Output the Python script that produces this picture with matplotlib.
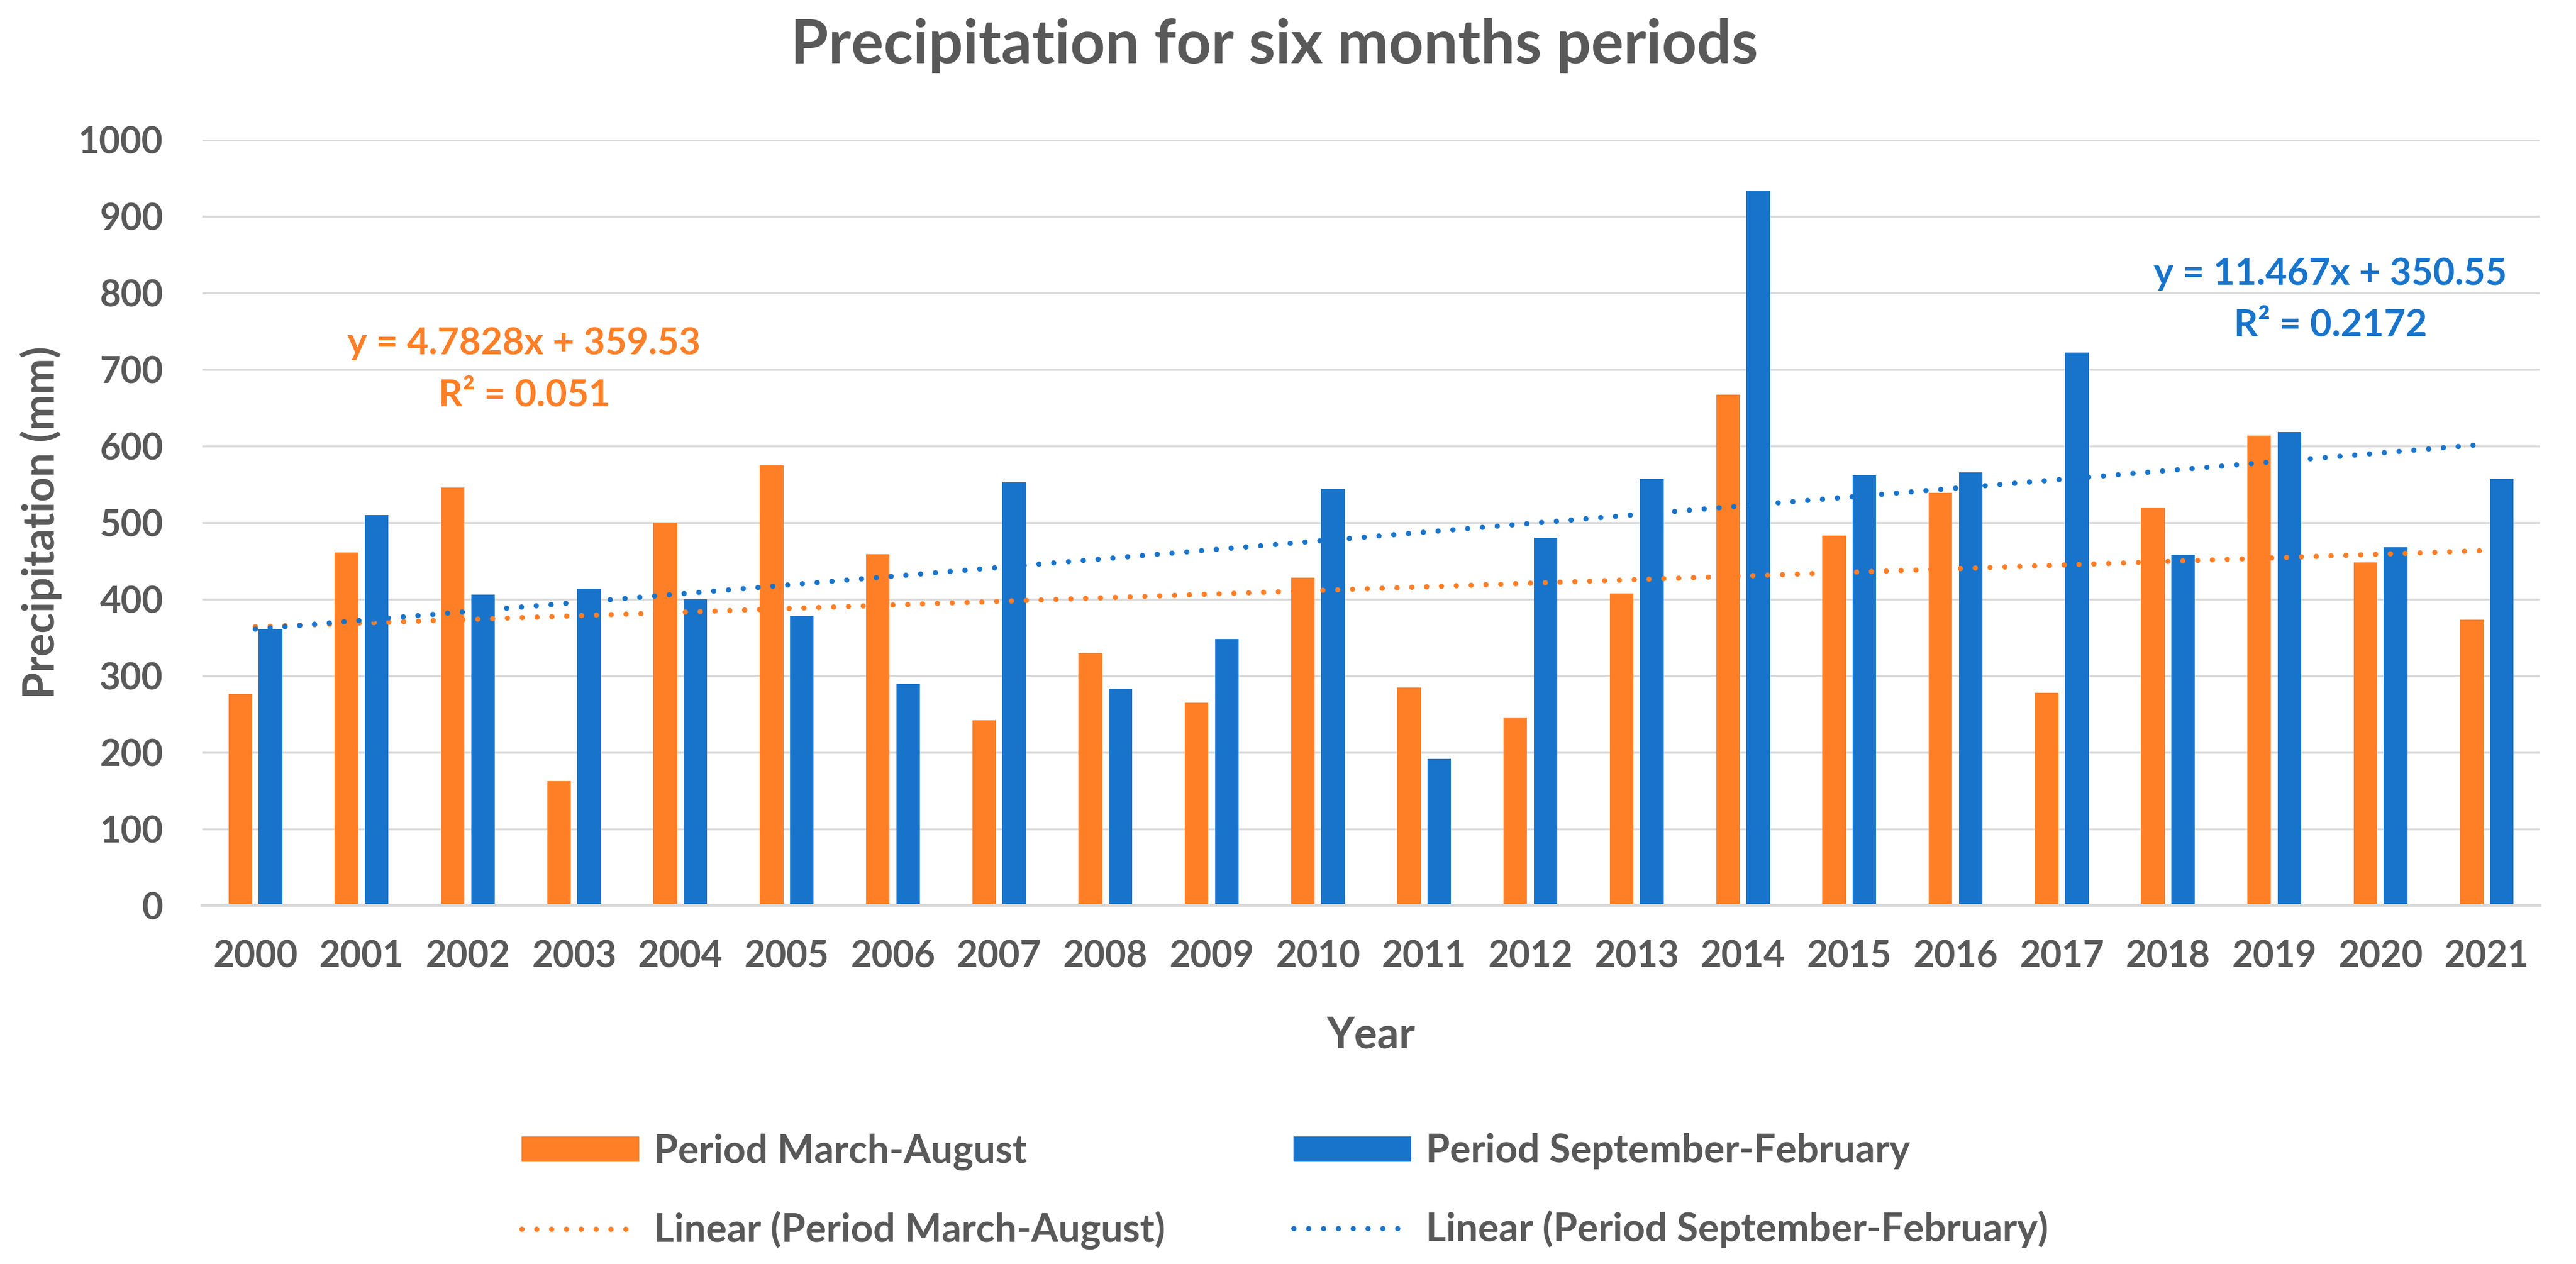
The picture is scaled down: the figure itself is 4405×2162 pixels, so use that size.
import numpy as np
import matplotlib
matplotlib.use("Agg")
import matplotlib.pyplot as plt
from matplotlib.patches import Patch
from matplotlib.lines import Line2D

years = [str(y) for y in range(2000, 2022)]
mar_aug = [276, 461, 546, 163, 500, 575, 459, 242, 330, 265, 428,
           285, 246, 408, 667, 483, 539, 278, 519, 614, 448, 373]
sep_feb = [361, 510, 406, 414, 400, 378, 289, 553, 283, 348, 544,
           192, 480, 557, 933, 562, 566, 722, 458, 618, 468, 557]
eq_mar_aug = ["y = 4.7828x + 359.53", "R² = 0.051"]
eq_sep_feb = ["y = 11.467x + 350.55", "R² = 0.2172"]

ORANGE = "#FF7F27"
BLUE = "#1874CB"
GREY = "#595959"
DOTS = (0, (0.01, 2.8))

plt.rcParams['font.family'] = ['Lato', 'DejaVu Sans']
plt.rcParams['font.weight'] = 'bold'

fig = plt.figure(figsize=(44.05, 21.62), dpi=100)
ax = fig.add_axes([0.0785, 0.2835, 0.9075, 0.606])

x = np.arange(len(years))
w = 0.222
ax.bar(x - 0.142, mar_aug, w, color=ORANGE, zorder=2)
ax.bar(x + 0.142, sep_feb, w, color=BLUE, zorder=2)

# linear trendlines (Excel style, x = 1..n)
t = x + 1
for vals, col in [(mar_aug, ORANGE), (sep_feb, BLUE)]:
    k, b = np.polyfit(t, vals, 1)
    ax.plot(x, k * t + b, color=col, lw=6.5, linestyle=DOTS,
            dash_capstyle='round', zorder=3)

# trendline equations
for lines, col, xc, ys in [(eq_mar_aug, ORANGE, 2.53, (720, 652)),
                           (eq_sep_feb, BLUE, 19.53, (811, 744))]:
    for s, yy in zip(lines, ys):
        ax.text(xc, yy, s, color=col, fontsize=46, fontweight='bold',
                ha='center', va='baseline')

ax.set_xlim(-0.5, len(years) - 0.5)
ax.set_ylim(0, 1000)
ax.set_yticks(range(0, 1001, 100))
ax.set_xticks(x)
ax.set_xticklabels(years)
ax.tick_params(axis='both', length=0, labelsize=45, labelcolor=GREY)
ax.tick_params(axis='y', pad=48)
ax.tick_params(axis='x', pad=42)
ax.grid(axis='y', color='#D9D9D9', lw=2.5, zorder=0)
for s in ['top', 'right', 'left']:
    ax.spines[s].set_visible(False)
ax.spines['bottom'].set_color('#D9D9D9')
ax.spines['bottom'].set_linewidth(4.3)

ax.set_ylabel("Precipitation (mm)", fontsize=53, color=GREY, fontweight='bold')
ax.yaxis.set_label_coords(-0.06, 0.5)
ax.set_xlabel("Year", fontsize=53, color=GREY, fontweight='bold')
ax.xaxis.set_label_coords(0.5, -0.143)

fig.text(0.4947, 0.950, "Precipitation for six months periods", fontsize=75,
         fontweight='bold', color=GREY, ha='center', va='baseline')

handles = [Patch(color=ORANGE, label="Period March-August"),
           Line2D([], [], color=ORANGE, lw=6.5, linestyle=DOTS,
                  dash_capstyle='round', label="Linear (Period March-August)"),
           Patch(color=BLUE, label="Period September-February"),
           Line2D([], [], color=BLUE, lw=6.5, linestyle=DOTS,
                  dash_capstyle='round', label="Linear (Period September-February)")]
leg = fig.legend(handles=handles, ncol=2, loc='center', bbox_to_anchor=(0.4988, 0.0574),
                 frameon=False, fontsize=48, handlelength=3.0, handleheight=0.6,
                 handletextpad=0.39, columnspacing=3.3, labelspacing=1.05)
for txt in leg.get_texts():
    txt.set_color(GREY)

fig.savefig("out.png", dpi=100)
